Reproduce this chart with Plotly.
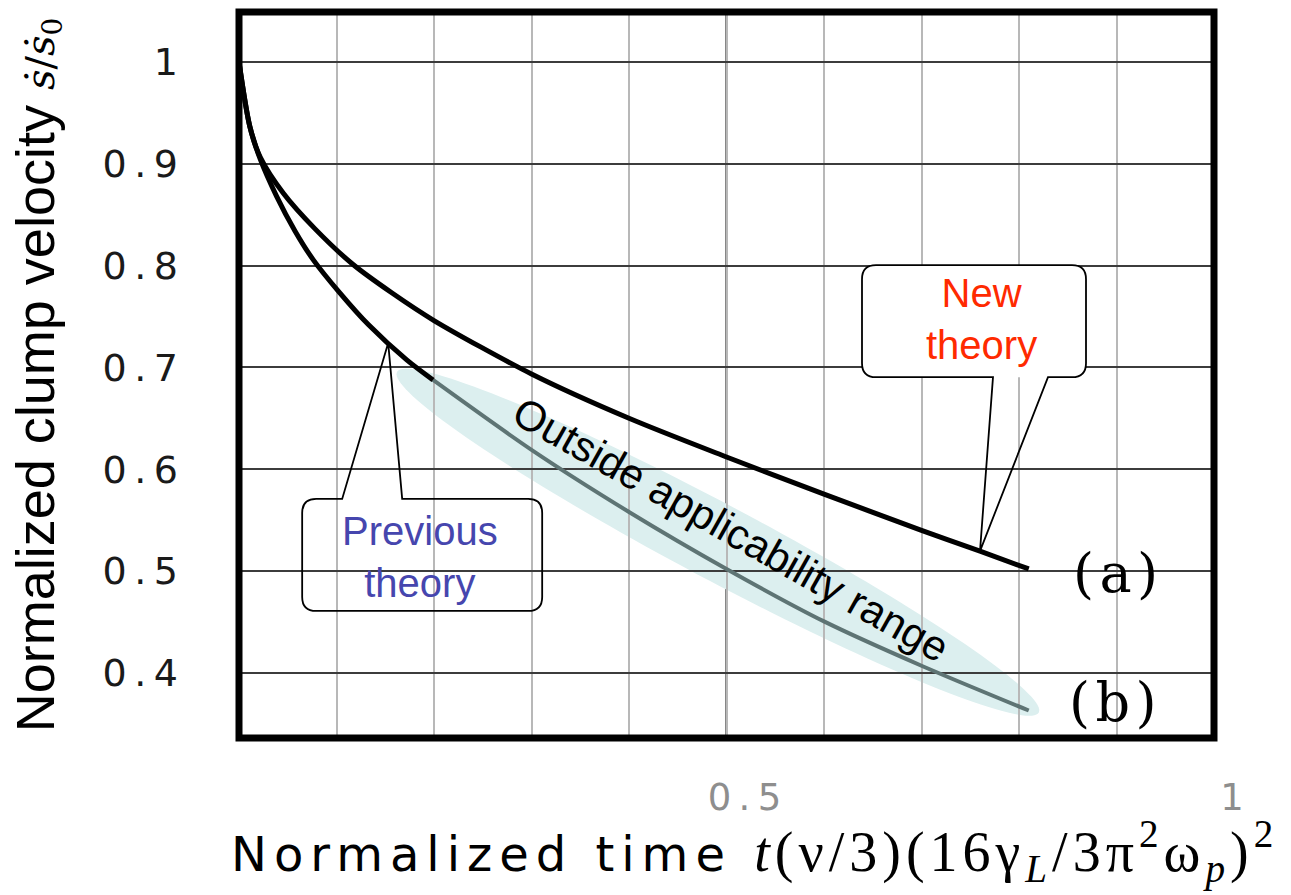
import numpy as np
import plotly.graph_objects as go

# ---------------- data ----------------
t_new = [0.0, 0.011, 0.022, 0.0455, 0.078, 0.117, 0.157, 0.2, 0.3, 0.4, 0.5, 0.6, 0.7, 0.76, 0.81]
v_new = [1.0, 0.937, 0.906, 0.871, 0.836, 0.801, 0.773, 0.746, 0.6935, 0.650, 0.612, 0.5755, 0.540, 0.5195, 0.502]

t_prev = [0.0, 0.011, 0.022, 0.0386, 0.0574, 0.0762, 0.1036, 0.1326, 0.172, 0.199, 0.3, 0.4, 0.5, 0.6, 0.7, 0.81]
v_prev = [1.0, 0.937, 0.904, 0.868, 0.834, 0.8056, 0.7729, 0.742, 0.7073, 0.6876, 0.619, 0.558, 0.502, 0.4505, 0.407, 0.363]

applicability_limit = 0.199   # previous theory valid only up to here

y_tickvals = [0.4, 0.5, 0.6, 0.7, 0.8, 0.9, 1.0]
y_ticktext = ["0.4", "0.5", "0.6", "0.7", "0.8", "0.9", "1"]
x_tickvals = [0.5, 1.0]
x_ticktext = ["0.5", "1"]

series_labels = ["(a)", "(b)"]
callout_new = "New<br>theory"
callout_prev = "Previous<br>theory"
range_label = "Outside applicability range"

# ---------------- layout constants ----------------
W, H = 1291, 895
ML, MR, MT, MB = 239, 77, 12, 157
XR = [0.0, 1.0]
YR = [0.336, 1.049]
PW, PH = W - ML - MR, H - MT - MB


def spaced(s, sep="\u2009"):
    return sep.join(list(s))


def px2d(px, py):
    x = XR[0] + (px - ML) / PW * (XR[1] - XR[0])
    y = YR[1] - (py - MT) / PH * (YR[1] - YR[0])
    return x, y


def d2px(x, y):
    px = ML + (x - XR[0]) / (XR[1] - XR[0]) * PW
    py = MT + (YR[1] - y) / (YR[1] - YR[0]) * PH
    return px, py


def callout_path(tip, box, bases, r=14, wedge="bottom"):
    """tip in data; box=(dx0,dy0,dx1,dy1) px offsets from tip; bases = px x-offsets."""
    tx, ty = d2px(*tip)
    x0, y0, x1, y1 = tx + box[0], ty + box[1], tx + box[2], ty + box[3]
    b1, b2 = tx + bases[0], tx + bases[1]

    def P(px, py):
        x, y = px2d(px, py)
        return f"{x:.5f},{y:.5f}"

    if wedge == "bottom":
        p = (f"M {P(x0 + r, y0)} L {P(x1 - r, y0)} Q {P(x1, y0)} {P(x1, y0 + r)} "
             f"L {P(x1, y1 - r)} Q {P(x1, y1)} {P(x1 - r, y1)} L {P(b2, y1)} L {P(tx, ty)} "
             f"L {P(b1, y1)} L {P(x0 + r, y1)} Q {P(x0, y1)} {P(x0, y1 - r)} "
             f"L {P(x0, y0 + r)} Q {P(x0, y0)} {P(x0 + r, y0)} Z")
    else:
        p = (f"M {P(x0 + r, y0)} L {P(b1, y0)} L {P(tx, ty)} L {P(b2, y0)} "
             f"L {P(x1 - r, y0)} Q {P(x1, y0)} {P(x1, y0 + r)} "
             f"L {P(x1, y1 - r)} Q {P(x1, y1)} {P(x1 - r, y1)} L {P(x0 + r, y1)} "
             f"Q {P(x0, y1)} {P(x0, y1 - r)} L {P(x0, y0 + r)} Q {P(x0, y0)} {P(x0 + r, y0)} Z")
    rect = (f"M {P(x0 + r, y0)} L {P(x1 - r, y0)} Q {P(x1, y0)} {P(x1, y0 + r)} "
            f"L {P(x1, y1 - r)} Q {P(x1, y1)} {P(x1 - r, y1)} L {P(x0 + r, y1)} "
            f"Q {P(x0, y1)} {P(x0, y1 - r)} L {P(x0, y0 + r)} Q {P(x0, y0)} {P(x0 + r, y0)} Z")
    return p, rect


fig = go.Figure()

# split previous theory into valid / outside-range parts
t_prev_a = np.array(t_prev)
v_prev_a = np.array(v_prev)
valid = t_prev_a <= applicability_limit + 1e-9
outside = t_prev_a >= applicability_limit - 1e-9

# highlight ellipse around the outside-applicability segment (pixel-space ellipse)
e_start = d2px(t_prev_a[outside][0], v_prev_a[outside][0])
e_end = d2px(t_prev_a[outside][-1], v_prev_a[outside][-1])
p1 = np.array([e_start[0] - 29, e_start[1] + 0])
p2 = np.array([e_end[0] + 17, e_end[1] + 10])
c = (p1 + p2) / 2 + np.array([-7, -8])
vec = p2 - p1
a = np.linalg.norm(vec) / 2
b = 38
ang = np.arctan2(vec[1], vec[0])
th = np.linspace(0, 2 * np.pi, 160)
ex = c[0] + a * np.cos(th) * np.cos(ang) - b * np.sin(th) * np.sin(ang)
ey = c[1] + a * np.cos(th) * np.sin(ang) + b * np.sin(th) * np.cos(ang)
pts = [px2d(u, w) for u, w in zip(ex, ey)]
ell_path = "M " + " L ".join(f"{x:.5f},{y:.5f}" for x, y in pts) + " Z"

shapes = []
shapes.append(dict(type="path", path=ell_path, xref="x", yref="y", layer="below",
                   fillcolor="#dcefef", line=dict(width=0)))
# 0.5 vertical line (darker)
shapes.append(dict(type="line", xref="x", yref="paper", x0=0.5, x1=0.5, y0=0, y1=1,
                   line=dict(color="#111111", width=2), layer="between"))

fig.add_trace(go.Scatter(x=t_new, y=v_new, mode="lines", line=dict(color="black", width=5, shape="spline", smoothing=0.8),
                         name="New theory", showlegend=False, hoverinfo="skip"))
fig.add_trace(go.Scatter(x=t_prev_a[outside], y=v_prev_a[outside], mode="lines",
                         line=dict(color="#5e7474", width=4, shape="spline", smoothing=0.8),
                         name="Previous theory (outside range)", showlegend=False, hoverinfo="skip"))
fig.add_trace(go.Scatter(x=t_prev_a[valid], y=v_prev_a[valid], mode="lines",
                         line=dict(color="black", width=5, shape="spline", smoothing=0.8),
                         name="Previous theory", showlegend=False, hoverinfo="skip"))

# callouts
tip_new = (t_new[13], v_new[13])
tip_prev_t = 0.153
tip_prev = (tip_prev_t, float(np.interp(tip_prev_t, t_prev, v_prev)))
new_path, new_rect = callout_path(tip_new, (-118, -286, 106, -174), (13, 68), wedge="bottom")
prev_path, prev_rect = callout_path(tip_prev, (-86, 156, 154, 268), (-46, 14), wedge="top")
shapes.append(dict(type="path", path=new_rect, xref="x", yref="y", fillcolor="white",
                   line=dict(width=0), layer="above"))
shapes.append(dict(type="path", path=new_path, xref="x", yref="y",
                   line=dict(color="black", width=1.8), layer="above"))
shapes.append(dict(type="path", path=prev_path, xref="x", yref="y",
                   line=dict(color="black", width=1.8), layer="above"))
# frame
shapes.append(dict(type="rect", xref="paper", yref="paper", x0=0, x1=1, y0=0, y1=1,
                   line=dict(color="black", width=7), layer="above"))

annotations = []
annotations.append(dict(x=tip_new[0], y=tip_new[1], xref="x", yref="y", text=callout_new,
                        showarrow=False, xshift=1, yshift=232, align="center",
                        font=dict(family="Liberation Sans, Arial", size=40, color="#ff2a00")))
annotations.append(dict(x=tip_prev[0], y=tip_prev[1], xref="x", yref="y", text=callout_prev,
                        showarrow=False, xshift=32, yshift=-214, align="center",
                        font=dict(family="Liberation Sans, Arial", size=40, color="#4646ae")))
tcx, tcy = px2d(731, 529)
annotations.append(dict(x=tcx, y=tcy, xref="x", yref="y", text=range_label, showarrow=False,
                        textangle=29.5, font=dict(family="Liberation Sans, Arial", size=42, color="black")))
annotations.append(dict(x=t_new[-1], y=v_new[-1], xref="x", yref="y", text=spaced(series_labels[0], "\u200a"),
                        showarrow=False, xanchor="left", xshift=42, yshift=-5,
                        font=dict(family="DejaVu Serif", size=54, color="black")))
annotations.append(dict(x=t_prev[-1], y=v_prev[-1], xref="x", yref="y", text=spaced(series_labels[1], "\u200a"),
                        showarrow=False, xanchor="left", xshift=38, yshift=8,
                        font=dict(family="DejaVu Serif", size=54, color="black")))

xtitle = ('<span style="letter-spacing:7px">Normalized time </span>'
          '<span style="font-family:Liberation Serif;font-size:56px;letter-spacing:5px"><i>t</i>(ν/3)(16γ<sub><i>L</i></sub>'
          '/3π<sup>2</sup>ω<sub><i>p</i></sub>)<sup>2</sup></span>')
annotations.append(dict(x=(229 - ML) / PW, y=-(851 - (H - MB)) / PH, xref="paper", yref="paper",
                        xanchor="left", yanchor="middle", text=xtitle, showarrow=False,
                        font=dict(family="DejaVu Sans", size=48, color="black")))

ytitle = ('Normalized clump velocity '
          '<span style="font-family:DejaVu Serif;font-size:40px"><i>ṡ</i>/<i>ṡ</i><sub>0</sub></span>')

fig.update_layout(
    width=W, height=H,
    margin=dict(l=ML, r=MR, t=MT, b=MB, autoexpand=False),
    paper_bgcolor="white", plot_bgcolor="white",
    showlegend=False,
    shapes=shapes, annotations=annotations,
    xaxis=dict(range=XR, tickmode="array", tickvals=x_tickvals, ticktext=[spaced(s) for s in x_ticktext],
               showgrid=False, zeroline=False, showline=False, ticks="",
               ticklabelshift=18, ticklabelstandoff=34,
               tickfont=dict(family="DejaVu Sans", size=37, color="#8e8e8e"),
               minor=dict(dtick=0.1, tick0=0, showgrid=True, gridcolor="#b8b8b8", gridwidth=2)),
    yaxis=dict(range=YR, tickmode="array", tickvals=y_tickvals, ticktext=[spaced(s) for s in y_ticktext],
               showgrid=True, gridcolor="#3c3c3c", gridwidth=1.6, zeroline=False, showline=False,
               ticks="", ticklabelstandoff=60,
               tickfont=dict(family="DejaVu Sans", size=38, color="#1a1a1a"),
               title=dict(text=ytitle, standoff=30,
                          font=dict(family="Liberation Sans, Arial", size=54, color="black"))),
)

fig.write_html("out.html", config={"displayModeBar": False},
               post_script="document.body.style.margin='0';document.body.style.padding='0';")
